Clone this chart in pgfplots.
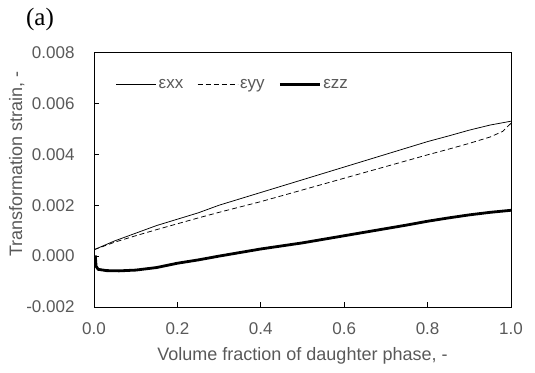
\documentclass[border=0pt]{standalone}
\usepackage{fontspec}
\setmainfont{Liberation Sans}
\newfontfamily\serifa{Liberation Serif}
\usepackage{pgfplots}
\pgfplotsset{compat=1.18}
\definecolor{txt}{HTML}{595959}
\begin{document}
\begin{tikzpicture}[font=\fontsize{17bp}{20bp}\selectfont]
\useasboundingbox (0,0) rectangle (535bp,373bp);
\node[anchor=center, font=\serifa\fontsize{25bp}{29bp}\selectfont] at (40bp,354bp) {(a)};
\begin{axis}[
  at={(94bp,66bp)}, anchor=south west,
  scale only axis, width=417bp, height=254.5bp,
  xmin=0, xmax=1, ymin=-0.002, ymax=0.008,
  xtick={0,0.2,0.4,0.6,0.8,1.0},
  xticklabels={0.0,0.2,0.4,0.6,0.8,1.0},
  ytick={-0.002,0,0.002,0.004,0.006,0.008},
  yticklabels={-0.002,0.000,0.002,0.004,0.006,0.008},
  scaled y ticks=false,
  xtick pos=bottom, ytick pos=left,
  tick align=inside, major tick length=5bp,
  tick style={black, line width=0.75bp},
  axis line style={black, line width=0.75bp},
  tick label style={text=txt, font=\fontsize{17bp}{20bp}\selectfont},
  xticklabel style={yshift=-12bp},
  yticklabel style={xshift=-16bp},
  xlabel={Volume fraction of daughter phase, -},
  ylabel={Transformation strain, -},
  label style={text=txt, font=\fontsize{18bp}{21bp}\selectfont},
  xlabel style={at={(axis description cs:0.5,-0.19)}, anchor=center},
  ylabel style={at={(axis description cs:-0.185,0.562)}, anchor=center, rotate=0},
  legend columns=3,
  legend style={at={(axis description cs:0.045,0.875)}, anchor=west, draw=none, fill=none,
    font=\fontsize{17bp}{20bp}\selectfont, text=txt,
    /tikz/every even column/.append style={column sep=12bp}},
  legend image code/.code={\draw[#1] (0bp,0bp) -- (40bp,0bp);},
]
\addplot[black, line width=0.75bp] coordinates {
(0,0.00025) (0.05,0.0006) (0.1,0.0009) (0.15,0.0012) (0.2,0.00145) (0.25,0.0017)
(0.3,0.002) (0.35,0.00225) (0.4,0.0025) (0.45,0.00275) (0.5,0.003) (0.55,0.00325)
(0.6,0.0035) (0.65,0.00375) (0.7,0.004) (0.75,0.00425) (0.8,0.0045) (0.85,0.00472)
(0.9,0.00495) (0.95,0.00515) (1.0,0.0053)};
\addlegendentry{εxx}
\addplot[black, line width=0.75bp, dash pattern=on 5bp off 3bp] coordinates {
(0,0.00025) (0.05,0.00055) (0.1,0.0008) (0.15,0.00104) (0.2,0.00127) (0.25,0.0015)
(0.3,0.00172) (0.35,0.00193) (0.4,0.00214) (0.45,0.00237) (0.5,0.0026) (0.55,0.00283)
(0.6,0.00306) (0.65,0.00329) (0.7,0.00352) (0.75,0.00375) (0.8,0.00398) (0.85,0.0042)
(0.9,0.00443) (0.95,0.00468) (0.98,0.0049) (1.0,0.00522)};
\addlegendentry{εyy}
\addplot[black, line width=2.8bp] coordinates {
(0.003,0.00003) (0.005,-0.0004) (0.01,-0.00052) (0.03,-0.00057) (0.06,-0.00058)
(0.1,-0.00055) (0.15,-0.00045) (0.2,-0.00028) (0.25,-0.00015) (0.3,0.0) (0.35,0.00014)
(0.4,0.00028) (0.45,0.0004) (0.5,0.00052) (0.55,0.00066) (0.6,0.0008) (0.65,0.00094)
(0.7,0.00108) (0.75,0.00122) (0.8,0.00137) (0.85,0.0015) (0.9,0.00162) (0.95,0.00172)
(1.0,0.0018)};
\addlegendentry{εzz}
\end{axis}
\end{tikzpicture}
\end{document}
